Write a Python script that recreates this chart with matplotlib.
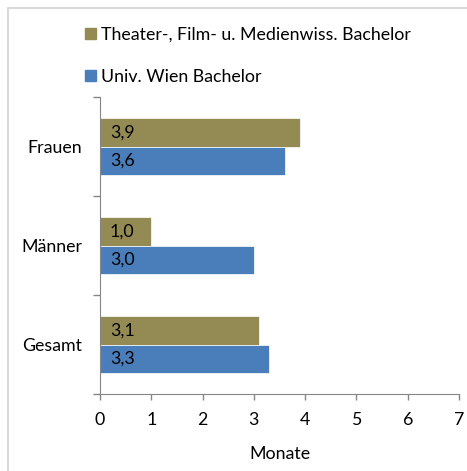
import matplotlib
matplotlib.use("Agg")
import matplotlib.pyplot as plt
from matplotlib.patches import Rectangle, Patch
import numpy as np

categories = ["Gesamt", "Männer", "Frauen"]
series_names = ["Theater-, Film- u. Medienwiss. Bachelor", "Univ. Wien Bachelor"]
theater = [3.1, 1.0, 3.9]
univ = [3.3, 3.0, 3.6]
xticks = [0, 1, 2, 3, 4, 5, 6, 7]
xlabel = "Monate"

colors = ["#948A54", "#4A7EBB"]
plt.rcParams['font.family'] = ['Lato', 'DejaVu Sans']
FS = 12.8
W, H = 467, 471
fig = plt.figure(figsize=(W/100, H/100), dpi=100)

# outer border
fig.patches.append(Rectangle((7.5/W, -0.1), 1.2, 1 - 8/H + 0.1, transform=fig.transFigure,
                             fill=False, edgecolor="#D9D9D9", linewidth=1.5))

ax = fig.add_axes([100/W, 1 - 394/H, (459-100)/W, (394-97)/H])
y = np.arange(len(categories))
h = 0.29
b1 = ax.barh(y + h/2, theater, height=h, color=colors[0], edgecolor="white", linewidth=0.5)
b2 = ax.barh(y - h/2, univ, height=h, color=colors[1], edgecolor="white", linewidth=0.5)
for bars, vals in ((b1, theater), (b2, univ)):
    for bar, v in zip(bars, vals):
        ax.annotate(f"{v:.1f}".replace(".", ","), (0, bar.get_y() + bar.get_height()/2),
                    xytext=(7, 0), textcoords="offset points", va="center", ha="left",
                    fontsize=FS, color="black")

ax.set_xlim(0, 7)
ax.set_ylim(-0.5, len(categories) - 0.5)
ax.set_xticks(xticks)
ax.set_xticklabels([str(t) for t in xticks], fontsize=FS)
ax.set_yticks(np.arange(-0.5, len(categories), 1.0))
ax.set_yticklabels([])
ax.set_yticks(y, minor=True)
ax.set_yticklabels(categories, minor=True, fontsize=FS)
ax.tick_params(axis="y", which="minor", length=0, pad=13)
ax.tick_params(axis="y", which="major", length=5, color="#868686", width=1)
ax.tick_params(axis="x", length=4, color="#868686", width=1, pad=9)
for s in ["top", "right"]:
    ax.spines[s].set_visible(False)
for s in ["left", "bottom"]:
    ax.spines[s].set_color("#868686")
ax.set_xlabel(xlabel, fontsize=FS, labelpad=13)

handles = [Patch(color=c) for c in colors]
fig.legend(handles, series_names, loc="upper left", bbox_to_anchor=(78/W, 1 - 20/H),
           frameon=False, fontsize=FS, handlelength=0.6, handleheight=0.6,
           handletextpad=0.32, labelspacing=1.45, borderaxespad=0)

fig.savefig("out.png", dpi=100)
